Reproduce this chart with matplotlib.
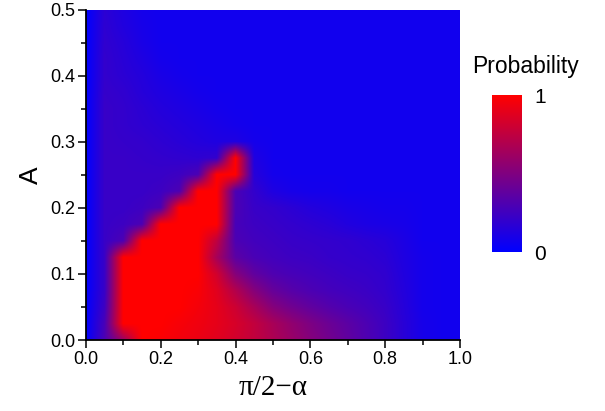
import numpy as np
import matplotlib
matplotlib.use("Agg")
import matplotlib.pyplot as plt
from matplotlib.colors import LinearSegmentedColormap
from matplotlib.ticker import MultipleLocator

# grid nodes: pi/2 - alpha (x) and A (y)
x_nodes = np.linspace(0.0, 1.0, 21)
y_nodes = np.linspace(0.0, 0.5, 21)

# probability on the grid, one row per A value (A = 0 first)
prob = [
    [0, .30, .60, 1, .98, .95, .92, .88, .82, .76, .68, .60, .52, .45, .38, .31, .24, .16, .09, .07, .07],
    [0, .28, 1, 1, 1, .97, .94, .90, .84, .76, .66, .57, .49, .42, .36, .30, .24, .16, .09, .07, .07],
    [0, .24, 1, 1, 1, 1, .96, .90, .80, .66, .52, .44, .38, .33, .29, .26, .22, .15, .08, .07, .07],
    [0, .22, 1, 1, 1, 1, .98, .88, .70, .52, .40, .34, .30, .27, .25, .23, .20, .14, .08, .07, .07],
    [0, .22, 1, 1, 1, 1, 1, .82, .52, .38, .31, .28, .26, .24, .22, .21, .19, .13, .08, .07, .07],
    [0, .22, 1, 1, 1, 1, 1, .65, .36, .29, .26, .24, .23, .21, .20, .19, .17, .12, .08, .07, .07],
    [0, .22, .30, 1, 1, 1, 1, .75, .30, .26, .24, .22, .21, .20, .19, .17, .15, .11, .07, .07, .07],
    [0, .22, .24, .30, 1, 1, 1, 1, .28, .24, .22, .20, .18, .16, .13, .11, .10, .09, .07, .07, .07],
    [0, .22, .22, .24, .30, 1, 1, 1, .30, .22, .20, .17, .14, .12, .10, .09, .08, .08, .07, .07, .07],
    [0, .22, .22, .22, .24, .30, 1, 1, .30, .20, .12, .09, .08, .08, .07, .07, .07, .07, .07, .07, .07],
    [0, .22, .22, .22, .22, .24, .30, 1, 1, .15, .08, .07, .07, .07, .07, .07, .07, .07, .07, .07, .07],
    [0, .22, .22, .21, .20, .19, .18, .20, 1, .12, .07, .07, .07, .07, .07, .07, .07, .07, .07, .07, .07],
    [0, .22, .21, .20, .18, .16, .14, .12, .12, .08, .07, .07, .07, .07, .07, .07, .07, .07, .07, .07, .07],
    [0, .22, .20, .18, .16, .14, .12, .10, .08, .07, .07, .07, .07, .07, .07, .07, .07, .07, .07, .07, .07],
    [0, .22, .20, .17, .14, .12, .10, .08, .07, .07, .07, .07, .07, .07, .07, .07, .07, .07, .07, .07, .07],
    [0, .21, .19, .15, .12, .10, .08, .07, .07, .07, .07, .07, .07, .07, .07, .07, .07, .07, .07, .07, .07],
    [0, .20, .17, .14, .10, .08, .07, .07, .07, .07, .07, .07, .07, .07, .07, .07, .07, .07, .07, .07, .07],
    [0, .20, .16, .12, .08, .07, .07, .07, .07, .07, .07, .07, .07, .07, .07, .07, .07, .07, .07, .07, .07],
    [0, .19, .15, .10, .07, .07, .07, .07, .07, .07, .07, .07, .07, .07, .07, .07, .07, .07, .07, .07, .07],
    [0, .18, .13, .09, .07, .07, .07, .07, .07, .07, .07, .07, .07, .07, .07, .07, .07, .07, .07, .07, .07],
    [0, .17, .12, .08, .07, .07, .07, .07, .07, .07, .07, .07, .07, .07, .07, .07, .07, .07, .07, .07, .07],
]
cbar_ticks = [0, 1]

prob = np.array(prob)
cmap = LinearSegmentedColormap.from_list("br", [(0, 0, 1), (1, 0, 0)])

fig = plt.figure(figsize=(6.05, 4.11), dpi=100)
ax = fig.add_axes([86 / 605, 1 - 340 / 411, 374 / 605, 330 / 411])

dx = x_nodes[1] - x_nodes[0]
dy = y_nodes[1] - y_nodes[0]
im = ax.imshow(prob, origin="lower", cmap=cmap, vmin=0, vmax=1,
               interpolation="bilinear", aspect="auto",
               extent=[x_nodes[0] - dx / 2, x_nodes[-1] + dx / 2,
                       y_nodes[0] - dy / 2, y_nodes[-1] + dy / 2])
ax.set_xlim(0, 1)
ax.set_ylim(0, 0.5)

for s in ["top", "right"]:
    ax.spines[s].set_visible(False)
for s in ["left", "bottom"]:
    ax.spines[s].set_linewidth(1.3)

ax.xaxis.set_major_locator(MultipleLocator(0.2))
ax.xaxis.set_minor_locator(MultipleLocator(0.1))
ax.yaxis.set_major_locator(MultipleLocator(0.1))
ax.yaxis.set_minor_locator(MultipleLocator(0.05))
ax.tick_params(which="major", direction="out", length=6, width=1.1, labelsize=13, pad=2)
ax.tick_params(which="minor", direction="out", length=3.5, width=1.1)
ax.xaxis.set_major_formatter(plt.FormatStrFormatter("%.1f"))
ax.yaxis.set_major_formatter(plt.FormatStrFormatter("%.1f"))
for lab in ax.get_xticklabels() + ax.get_yticklabels():
    lab.set_family("Liberation Sans")

ax.set_xlabel("π/2−α", family="Liberation Serif", fontsize=21, labelpad=5)
ax.set_ylabel("A", family="Liberation Sans", fontsize=19, labelpad=5)

cax = fig.add_axes([492 / 605, 1 - 252 / 411, 30 / 605, 157 / 411])
cb = fig.colorbar(im, cax=cax, ticks=cbar_ticks)
cb.outline.set_visible(False)
cb.ax.tick_params(length=0, labelsize=15, pad=9)
cb.ax.set_yticklabels(["0", "1"], family="Liberation Sans")
fig.text(525 / 605, 1 - 66 / 411, "Probability", ha="center", va="center",
         family="Liberation Sans", fontsize=16.5)

fig.savefig("out.png", dpi=100)
